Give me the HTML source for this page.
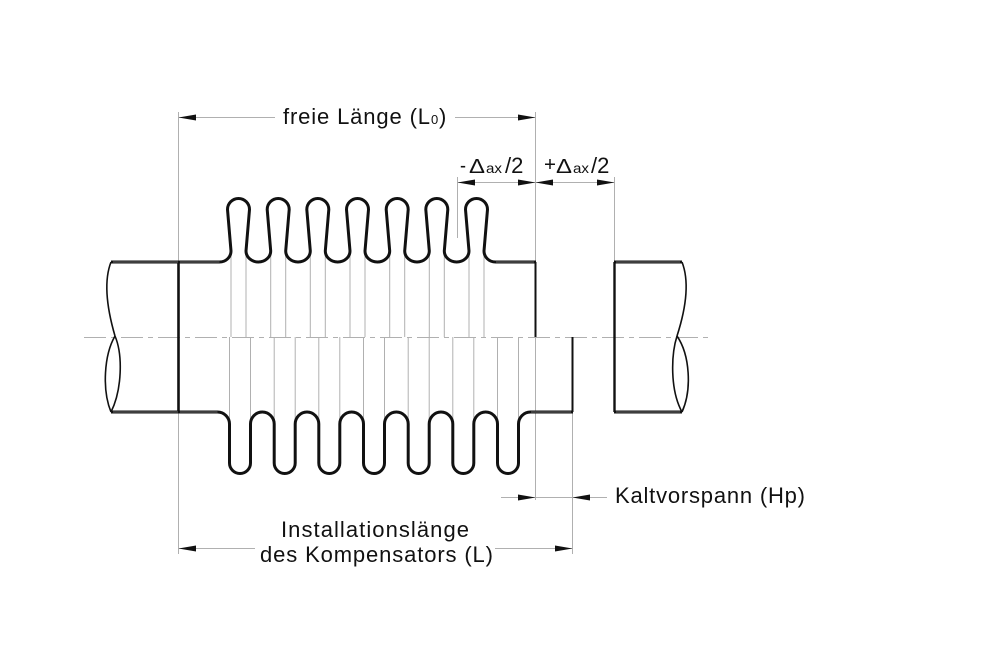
<!DOCTYPE html>
<html>
<head>
<meta charset="utf-8">
<style>
  html, body { margin:0; padding:0; background:#fff; }
  svg { display:block; }
  text { font-family: "Liberation Sans", "DejaVu Sans", sans-serif; fill:#111; }
</style>
</head>
<body>
<svg width="1000" height="655" viewBox="0 0 1000 655" xmlns="http://www.w3.org/2000/svg">
  <rect width="1000" height="655" fill="#fff"/>

  <!-- thin gray construction / extension lines -->
  <g stroke="#b0b0b0" stroke-width="1" fill="none">
    <line x1="178.5" y1="112" x2="178.5" y2="554"/>
    <line x1="535.5" y1="112" x2="535.5" y2="262"/>
    <line x1="535.5" y1="337" x2="535.5" y2="500"/>
    <line x1="572.5" y1="412" x2="572.5" y2="554"/>
    <line x1="614.5" y1="177" x2="614.5" y2="262"/>
    <line x1="457.5" y1="177" x2="457.5" y2="238"/>

    <!-- top bellows projection lines -->
    <line x1="231" y1="251" x2="231" y2="337"/>
    <line x1="246" y1="251" x2="246" y2="337"/>
    <line x1="270.7" y1="251" x2="270.7" y2="337"/>
    <line x1="285.7" y1="251" x2="285.7" y2="337"/>
    <line x1="310.3" y1="251" x2="310.3" y2="337"/>
    <line x1="325.3" y1="251" x2="325.3" y2="337"/>
    <line x1="350" y1="251" x2="350" y2="337"/>
    <line x1="365" y1="251" x2="365" y2="337"/>
    <line x1="389.7" y1="251" x2="389.7" y2="337"/>
    <line x1="404.7" y1="251" x2="404.7" y2="337"/>
    <line x1="429.3" y1="251" x2="429.3" y2="337"/>
    <line x1="444.3" y1="251" x2="444.3" y2="337"/>
    <line x1="469" y1="251" x2="469" y2="337"/>
    <line x1="484" y1="251" x2="484" y2="337"/>

    <!-- bottom bellows projection lines -->
    <line x1="229.5" y1="337" x2="229.5" y2="424"/>
    <line x1="250.5" y1="337" x2="250.5" y2="424"/>
    <line x1="274.2" y1="337" x2="274.2" y2="424"/>
    <line x1="295.2" y1="337" x2="295.2" y2="424"/>
    <line x1="318.8" y1="337" x2="318.8" y2="424"/>
    <line x1="339.8" y1="337" x2="339.8" y2="424"/>
    <line x1="363.5" y1="337" x2="363.5" y2="424"/>
    <line x1="384.5" y1="337" x2="384.5" y2="424"/>
    <line x1="408.2" y1="337" x2="408.2" y2="424"/>
    <line x1="429.2" y1="337" x2="429.2" y2="424"/>
    <line x1="452.8" y1="337" x2="452.8" y2="424"/>
    <line x1="473.8" y1="337" x2="473.8" y2="424"/>
    <line x1="497.5" y1="337" x2="497.5" y2="424"/>
    <line x1="518.5" y1="337" x2="518.5" y2="424"/>

    <!-- center line -->
    <line x1="84" y1="337.5" x2="709" y2="337.5" stroke-dasharray="22 5 5 5"/>

    <!-- dimension lines -->
    <line x1="178" y1="117.5" x2="275" y2="117.5"/>
    <line x1="455" y1="117.5" x2="535" y2="117.5"/>
    <line x1="457" y1="182.5" x2="614" y2="182.5"/>
    <line x1="501" y1="497.5" x2="607" y2="497.5"/>
    <line x1="178" y1="548.5" x2="255" y2="548.5"/>
    <line x1="495" y1="548.5" x2="572" y2="548.5"/>
  </g>

  <!-- arrowheads -->
  <g fill="#111">
    <polygon points="178.5,117.5 196,114.5 196,120.5"/>
    <polygon points="535.5,117.5 518,114.5 518,120.5"/>

    <polygon points="457.5,182.5 475,179.5 475,185.5"/>
    <polygon points="535.5,182.5 518,179.5 518,185.5"/>
    <polygon points="535.5,182.5 553,179.5 553,185.5"/>
    <polygon points="614.5,182.5 597,179.5 597,185.5"/>

    <polygon points="535.5,497.5 518,494.5 518,500.5"/>
    <polygon points="572.5,497.5 590,494.5 590,500.5"/>

    <polygon points="178.5,548.5 196,545.5 196,551.5"/>
    <polygon points="572.5,548.5 555,545.5 555,551.5"/>
  </g>

  <!-- pipe ends (verticals) -->
  <g stroke="#111" fill="none">
    <line x1="178.5" y1="262" x2="178.5" y2="412" stroke-width="2.6"/>
    <line x1="535.5" y1="262" x2="535.5" y2="337" stroke-width="2"/>
    <line x1="572.5" y1="337" x2="572.5" y2="412" stroke-width="2"/>
    <line x1="614.5" y1="262" x2="614.5" y2="412" stroke-width="2.4"/>
  </g>

  <!-- pipe breaks -->
  <g stroke="#111" stroke-width="1.6" fill="none">
    <path d="M111,262 C104,280 106,305 115,336"/>
    <path d="M115,336 C104,355 102,390 111,412"/>
    <path d="M115,336 C123,355 122,390 111,412"/>
    <path d="M682,262 C689,280 687,305 677,336"/>
    <path d="M677,336 C671,355 670,390 682,412"/>
    <path d="M677,336 C690,355 692,390 682,412"/>
  </g>

  <!-- bellows + pipes -->
  <g fill="none" stroke-linejoin="round">
    <g stroke="#111" stroke-width="3">
      <path d="M111,262 H219.5 A11.5,11 0 0 0 231,251
        L227.5,209.5 A11,11 0 0 1 249.5,209.5 L246,251
        A12.35,11 0 0 0 270.7,251
        L267.2,209.5 A11,11 0 0 1 289.2,209.5 L285.7,251
        A12.3,11 0 0 0 310.3,251
        L306.8,209.5 A11,11 0 0 1 328.8,209.5 L325.3,251
        A12.35,11 0 0 0 350,251
        L346.5,209.5 A11,11 0 0 1 368.5,209.5 L365,251
        A12.35,11 0 0 0 389.7,251
        L386.2,209.5 A11,11 0 0 1 408.2,209.5 L404.7,251
        A12.3,11 0 0 0 429.3,251
        L425.8,209.5 A11,11 0 0 1 447.8,209.5 L444.3,251
        A12.35,11 0 0 0 469,251
        L465.5,209.5 A11,11 0 0 1 487.5,209.5 L484,251
        A11.5,11 0 0 0 495.5,262 H536"/>
      <path d="M111,412 H217.5 A12,12 0 0 1 229.5,424
        V463 A10.5,10.5 0 0 0 250.5,463
        V424 A11.85,12 0 0 1 274.2,424
        V463 A10.5,10.5 0 0 0 295.2,463
        V424 A11.8,12 0 0 1 318.8,424
        V463 A10.5,10.5 0 0 0 339.8,463
        V424 A11.85,12 0 0 1 363.5,424
        V463 A10.5,10.5 0 0 0 384.5,463
        V424 A11.85,12 0 0 1 408.2,424
        V463 A10.5,10.5 0 0 0 429.2,463
        V424 A11.8,12 0 0 1 452.8,424
        V463 A10.5,10.5 0 0 0 473.8,463
        V424 A11.85,12 0 0 1 497.5,424
        V463 A10.5,10.5 0 0 0 518.5,463
        V424 A12,12 0 0 1 530.5,412 H573"/>
      <path d="M614,262 H682 M614,412 H682"/>
    </g>
    <g stroke="#8a8a8a" stroke-width="0.7">
      <path d="M113,262 H178 M180,262 H219.5"/>
      <path d="M113,412 H178 M180,412 H217.5"/>
      <path d="M496,262 H534 M531,412 H571"/>
      <path d="M616,262 H680 M616,412 H680"/>
    </g>
  </g>

  <!-- labels -->
  <text x="283" y="124" font-size="22" textLength="147" lengthAdjust="spacing">freie Länge (L</text>
  <text x="431" y="124" font-size="13">0</text>
  <text x="439" y="124" font-size="22">)</text>

  <text x="460" y="172" font-size="20" textLength="6" lengthAdjust="spacingAndGlyphs">-</text>
  <text x="469" y="173" font-size="20" textLength="16" lengthAdjust="spacingAndGlyphs">Δ</text>
  <text x="486" y="173" font-size="14" textLength="16" lengthAdjust="spacingAndGlyphs">ax</text>
  <text x="505" y="173" font-size="22">/2</text>

  <text x="544" y="171" font-size="20" textLength="12" lengthAdjust="spacingAndGlyphs">+</text>
  <text x="556" y="173" font-size="20" textLength="16" lengthAdjust="spacingAndGlyphs">Δ</text>
  <text x="573" y="173" font-size="14" textLength="16" lengthAdjust="spacingAndGlyphs">ax</text>
  <text x="591" y="173" font-size="22">/2</text>

  <text x="615" y="503" font-size="22" textLength="190" lengthAdjust="spacing">Kaltvorspann (Hp)</text>

  <text x="281" y="537" font-size="22" textLength="188" lengthAdjust="spacing">Installationslänge</text>
  <text x="260" y="562" font-size="22" textLength="233" lengthAdjust="spacing">des Kompensators (L)</text>
</svg>
</body>
</html>
